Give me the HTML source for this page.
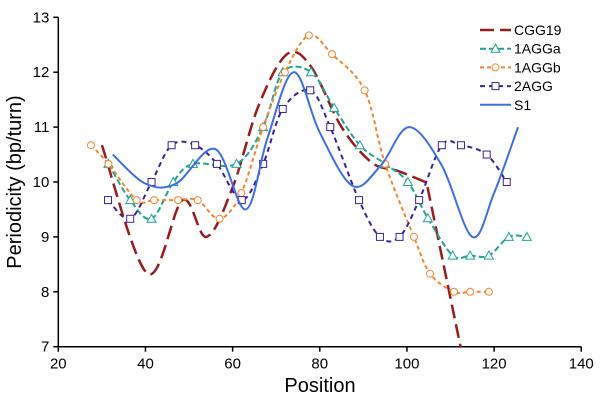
<!DOCTYPE html>
<html><head><meta charset="utf-8"><style>
body{margin:0;background:#fff}
svg text{font-family:"Liberation Sans",sans-serif;fill:#000}
</style></head><body>
<svg id="chart" width="600" height="403" xmlns="http://www.w3.org/2000/svg">
<g id="axes"></g>
<g id="series"></g>
<g id="legend"></g>
<text x="0" y="0" font-size="20" text-anchor="middle" transform="translate(21,182) rotate(-90)">Periodicity (bp/turn)</text>
<text x="320" y="392" font-size="20" text-anchor="middle">Position</text>
</svg>
<script>
const xTicks=[20,40,60,80,100,120,140];
const yTicks=[7,8,9,10,11,12,13];
const seriesNames=["CGG19","1AGGa","1AGGb","2AGG","S1"];
const cggX=[30,40.5,48.5,54,60,66,72.5,78,85,92,98,104.5,112.3];
const cggY=[10.67,8.33,9.67,9.0,9.9,11.4,12.33,12.1,11.0,10.35,10.2,9.99,7.0];
const aggaX=[31.5,36.5,41.4,46.4,50.9,60.9,67,71.5,78,83.3,89.2,95,100.2,104.8,110.5,114.5,118.8,123.4,127.5];
const aggaY=[10.33,9.67,9.33,10,10.33,10.33,11,12,12,11.35,10.67,10.33,10,9.34,8.66,8.66,8.66,9,9];
const aggbX=[27.5,31.5,38,42,47.5,52,57,62,67,72,77.5,82.8,90.3,95,101.6,105.3,110.8,114.5,118.8];
const aggbY=[10.67,10.33,9.67,9.67,9.67,9.67,9.33,9.8,11,12,12.67,12.33,11.67,10.33,9.0,8.33,8,8,8];
const agg2X=[31.4,36.5,41.4,46,51.4,56.4,62.1,67,71.5,77.8,82.4,89,93.8,98.3,102.8,108,112.4,118.3,122.9];
const agg2Y=[9.67,9.33,10,10.67,10.67,10.33,9.67,10.33,11.33,11.67,11,9.67,9,9,9.67,10.67,10.67,10.5,10];
const s1X=[32.5,40,47,56,63,68,74,80,87.5,94,100.5,108,115,120,125.5];
const s1Y=[10.5,9.97,9.97,10.6,9.5,10.8,12.0,10.9,9.93,10.3,11.0,10.3,9.0,9.8,11.0];

const X0=58.3,XS=4.358,Y0=17.3,YS=54.9;
const sx=v=>X0+(v-20)*XS;
const sy=v=>Y0+(13-v)*YS;
const NS="http://www.w3.org/2000/svg";
function mk(tag,attrs,parent){const e=document.createElementNS(NS,tag);for(const k in attrs)e.setAttribute(k,attrs[k]);parent.appendChild(e);return e;}
const axes=document.getElementById('axes');
let a=mk('line',{x1:sx(20),y1:sy(7),x2:sx(140),y2:sy(7),stroke:'#000','stroke-width':1.5},axes);


a=mk('line',{x1:sx(20),y1:sy(7),x2:sx(20),y2:sy(13),stroke:'#000','stroke-width':1.5},axes);


xTicks.forEach(t=>{const l=mk('line',{x1:sx(t),y1:sy(7),x2:sx(t),y2:sy(7)+5,stroke:'#000','stroke-width':1.5},axes);


const tx=mk('text',{x:sx(t),y:sy(7)+22,'font-size':15,'text-anchor':'middle'},axes);tx.textContent=t;

});
yTicks.forEach(t=>{const l=mk('line',{x1:sx(20)-5,y1:sy(t),x2:sx(20),y2:sy(t),stroke:'#000','stroke-width':1.5},axes);


const tx=mk('text',{x:sx(20)-9,y:sy(t)+5,'font-size':15,'text-anchor':'end'},axes);tx.textContent=t;

});

function spline(xs,ys,linearEnd){const p=xs.map((x,i)=>[sx(x),sy(ys[i])]);let d=`M${p[0][0]},${p[0][1]}`;
const n=p.length;
for(let i=0;i<n-1;i++){
 if(linearEnd&&i===n-2){d+=` L${p[i+1][0]},${p[i+1][1]}`;continue;}
 const p0=p[i-1]||p[i],p1=p[i],p2=p[i+1];
 let p3=p[i+2]||p2;
 if(linearEnd&&i===n-3)p3=p1; // zero tangent at the corner point
 const c1=[p1[0]+(p2[0]-p0[0])/6,p1[1]+(p2[1]-p0[1])/6];
 const c2=(linearEnd&&i===n-3)?[p2[0],p2[1]]:[p2[0]-(p3[0]-p1[0])/6,p2[1]-(p3[1]-p1[1])/6];
 d+=` C${c1[0]},${c1[1]} ${c2[0]},${c2[1]} ${p2[0]},${p2[1]}`;}return d;}
const cfg=[
 {xs:cggX,ys:cggY,c:'#9a1c1c',dash:'14 6',w:2.5,m:null,lin:true},
 {xs:aggaX,ys:aggaY,c:'#1fa596',dash:'6 3',w:2,m:'tri'},
 {xs:aggbX,ys:aggbY,c:'#f5842c',dash:'4 3',w:2,m:'circ'},
 {xs:agg2X,ys:agg2Y,c:'#3b229a',dash:'5 4',w:2,m:'sq'},
 {xs:s1X,ys:s1Y,c:'#3d6ee6',dash:'',w:2,m:null}];
const sg=document.getElementById('series');
function marker(type,x,y,c,parent){let e;
 if(type==='tri')e=mk('polygon',{points:`${x},${y-4.5} ${x-4.5},${y+3.5} ${x+4.5},${y+3.5}`,fill:'#fff',stroke:c,'stroke-width':1},parent);
 else if(type==='circ')e=mk('circle',{cx:x,cy:y,r:3.5,fill:'#fff',stroke:c,'stroke-width':1},parent);
 else e=mk('rect',{x:x-3.5,y:y-3.5,width:7,height:7,fill:'#fff',stroke:c,'stroke-width':1},parent);
 return e;}
cfg.forEach((s,i)=>{const g=mk('g',{},sg);
 
 
 const p=mk('path',{d:spline(s.xs,s.ys,s.lin),fill:'none',stroke:s.c,'stroke-width':s.w,'stroke-dasharray':s.dash},g);
 
 
 if(s.m)s.xs.forEach((x,j)=>{const e=marker(s.m,sx(x),sy(s.ys[j]),s.c,g);
 
 });
 const lg=document.getElementById('legend');const ly=30+i*18.7;
 const le=mk('g',{},lg);
 
 
 mk('line',{x1:480,y1:ly,x2:511,y2:ly,stroke:s.c,'stroke-width':s.w,'stroke-dasharray':s.dash},le);
 if(s.m)marker(s.m,495.5,ly,s.c,le);
 const t=mk('text',{x:514,y:ly+5,'font-size':14},le);t.textContent=seriesNames[i];});
</script>
</body></html>
